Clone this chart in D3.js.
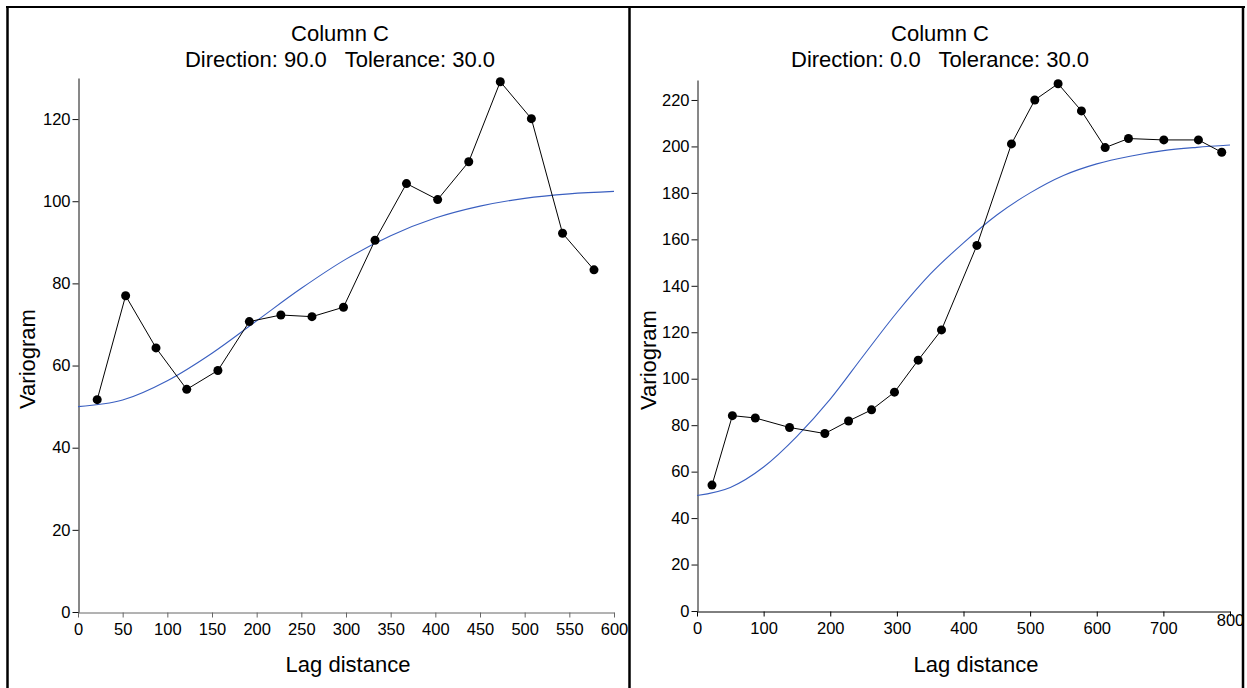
<!DOCTYPE html>
<html>
<head>
<meta charset="utf-8">
<script src="https://cdn.jsdelivr.net/npm/d3@7"></script>
<style>
  body { margin: 0; background: #fff; }
  svg { display: block; font-family: "Liberation Sans", Arial, sans-serif; }
  text { white-space: pre; }
</style>
</head>
<body>
<svg id="chart" width="1247" height="688"></svg>
<script>
// experimental variogram, direction 90
var lagLeft = [21.5, 53.3, 87.3, 121.7, 156.6, 191.8, 227.1, 261.9, 297.2, 332.5, 367.7, 402.6, 437.4, 472.7, 507.5, 542.4, 577.6];
var gammaLeft = [51.7, 77.0, 64.3, 54.2, 58.8, 70.7, 72.3, 71.9, 74.2, 90.5, 104.3, 100.4, 109.6, 129.1, 120.1, 92.2, 83.3];
// fitted model, direction 90
var modelLagLeft = [0, 50, 100, 150, 200, 250, 300, 350, 400, 450, 500, 550, 600];
var modelLeft = [50.0, 51.6, 56.3, 63.0, 70.9, 78.8, 85.9, 91.6, 95.9, 98.8, 100.7, 101.8, 102.4];

// experimental variogram, direction 0
var lagRight = [22.5, 53.1, 87.5, 138.9, 191.9, 227.5, 262.0, 296.4, 332.0, 367.0, 420.1, 472.0, 507.0, 542.0, 577.0, 612.6, 647.6, 700.7, 752.6, 787.6];
var gammaRight = [54.2, 84.1, 83.1, 79.0, 76.4, 81.8, 86.6, 94.2, 108.0, 121.0, 157.4, 201.1, 220.0, 227.0, 215.3, 199.5, 203.4, 202.8, 202.8, 197.5];
// fitted model, direction 0
var modelLagRight = [0, 50, 100, 150, 200, 250, 300, 350, 400, 450, 500, 550, 600, 650, 700, 750, 800];
var modelRight = [49.7, 53.2, 62.0, 75.2, 91.2, 110.0, 128.5, 145.0, 158.5, 170.5, 180.0, 187.5, 192.5, 195.8, 198.2, 199.6, 200.6];

var xTicksLeft = [0, 50, 100, 150, 200, 250, 300, 350, 400, 450, 500, 550, 600];
var yTicksLeft = [0, 20, 40, 60, 80, 100, 120];
var xTicksRight = [0, 100, 200, 300, 400, 500, 600, 700, 800];
var yTicksRight = [0, 20, 40, 60, 80, 100, 120, 140, 160, 180, 200, 220];

var panels = [
  {
    title: 'Column C', subtitle: 'Direction: 90.0   Tolerance: 30.0',
    lag: lagLeft, gamma: gammaLeft, modelLag: modelLagLeft, model: modelLeft,
    xTicks: xTicksLeft, yTicks: yTicksLeft, xMax: 600, yMax: 130,
    left: 78, right: 614, top: 78, bottom: 612,
    titleX: 340, xLabelX: 348, yLabelX: 35, yLabelY: 359, xAxisColor: '#666'
  },
  {
    title: 'Column C', subtitle: 'Direction: 0.0   Tolerance: 30.0',
    lag: lagRight, gamma: gammaRight, modelLag: modelLagRight, model: modelRight,
    xTicks: xTicksRight, yTicks: yTicksRight, xMax: 800, yMax: 228.6,
    left: 697, right: 1230, top: 80, bottom: 611,
    titleX: 940, xLabelX: 976, yLabelX: 656, yLabelY: 360, xAxisColor: '#000'
  }
];

var svg = d3.select('#chart');

// frames
var frame = svg.append('g').attr('fill', 'none').attr('stroke', '#000');
frame.append('line').attr('x1', 6).attr('x2', 1245).attr('y1', 7).attr('y2', 7).attr('stroke-width', 2);
[7.5, 629.5, 1243].forEach(function(x) {
  frame.append('line').attr('x1', x).attr('x2', x).attr('y1', 6).attr('y2', 688).attr('stroke-width', 2.5);
});

function drawPanel(p, idx) {
  var g = svg.append('g').attr('class', 'panel');
  var x = d3.scaleLinear().domain([0, p.xMax]).range([p.left, p.right]);
  var y = d3.scaleLinear().domain([0, p.yMax]).range([p.bottom, p.top]);

  g.append('text').attr('x', p.titleX).attr('y', 41).attr('text-anchor', 'middle')
    .attr('font-size', 22).text(p.title);
  g.append('text').attr('x', p.titleX).attr('y', 67).attr('text-anchor', 'middle')
    .attr('font-size', 22).text(p.subtitle);

  var xAxis = g.append('g')
    .attr('transform', 'translate(0,' + (p.bottom + 0.5) + ')')
    .call(d3.axisBottom(x).tickValues(p.xTicks).tickSize(5).tickSizeOuter(0).tickFormat(d3.format('d')));
  xAxis.selectAll('line, path').attr('stroke', p.xAxisColor);
  xAxis.selectAll('text').attr('font-size', 16.5).attr('fill', '#000').attr('dy', '0.9em');
  if (idx === 1) {
    // the last label is drawn raised, right against the axis
    xAxis.selectAll('.tick').filter(function(d) { return d === p.xMax; })
      .select('text').attr('dy', '0.42em');
  }

  var yAxis = g.append('g')
    .attr('transform', 'translate(' + (p.left + 0.5) + ',0)')
    .call(d3.axisLeft(y).tickValues(p.yTicks).tickSize(6).tickSizeOuter(0).tickFormat(d3.format('d')));
  yAxis.selectAll('line, path').attr('stroke', '#111');
  yAxis.selectAll('text').attr('font-size', 16.5).attr('fill', '#000').attr('x', -8);

  g.append('text').attr('x', p.xLabelX).attr('y', 672).attr('text-anchor', 'middle')
    .attr('font-size', 22).text('Lag distance');
  g.append('text').attr('transform', 'translate(' + p.yLabelX + ',' + p.yLabelY + ') rotate(-90)')
    .attr('text-anchor', 'middle').attr('font-size', 22).text('Variogram');

  var modelPts = p.modelLag.map(function(d, i) { return [d, p.model[i]]; });
  g.append('path').datum(modelPts)
    .attr('fill', 'none').attr('stroke', '#3a5fc0').attr('stroke-width', 1.1)
    .attr('d', d3.line().curve(d3.curveMonotoneX)
      .x(function(d) { return x(d[0]); }).y(function(d) { return y(d[1]); }));

  var pts = p.lag.map(function(d, i) { return [d, p.gamma[i]]; });
  g.append('path').datum(pts)
    .attr('fill', 'none').attr('stroke', '#000').attr('stroke-width', 1)
    .attr('d', d3.line().x(function(d) { return x(d[0]); }).y(function(d) { return y(d[1]); }));

  g.selectAll('circle.pt').data(pts).enter().append('circle')
    .attr('class', 'pt')
    .attr('cx', function(d) { return x(d[0]); })
    .attr('cy', function(d) { return y(d[1]); })
    .attr('r', 4.5)
    .attr('fill', '#000');
}

panels.forEach(drawPanel);
</script>
</body>
</html>
